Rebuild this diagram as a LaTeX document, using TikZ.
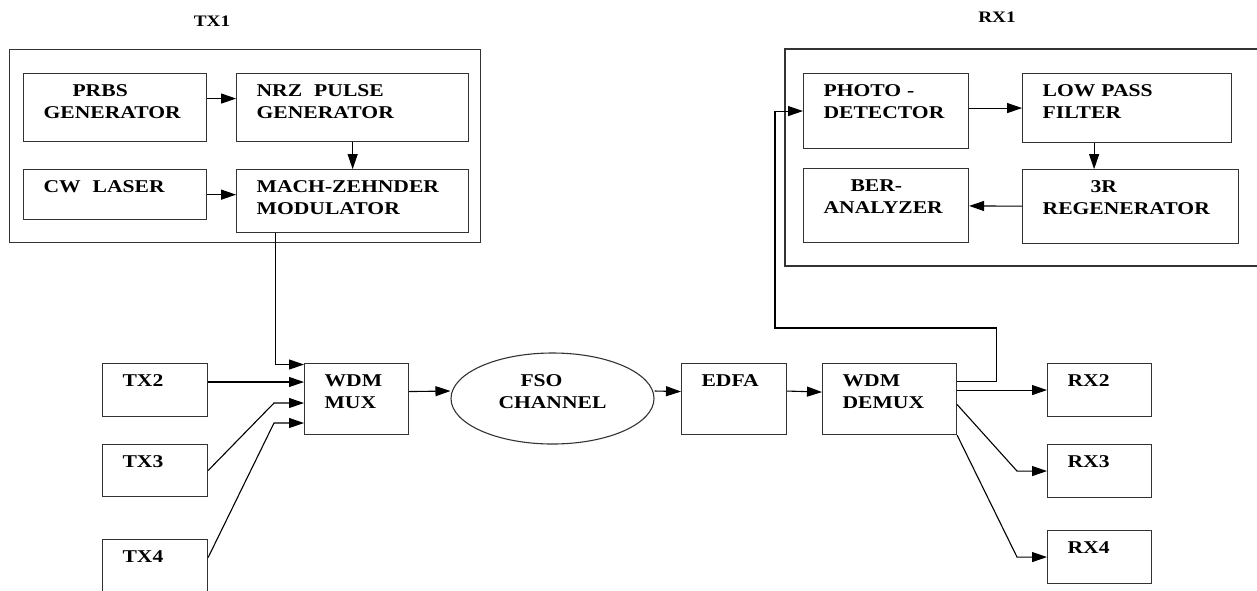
\documentclass[tikz,border=0pt]{standalone}
\usepackage{fontspec}
\setmainfont{Liberation Serif}[FakeStretch=1.2]
\usetikzlibrary{arrows.meta, positioning, calc, shapes.geometric}
\definecolor{boxgray}{HTML}{333333}
\newcommand{\blkfont}{\fontsize{18}{22}\selectfont\bfseries}
\newcommand{\ttlfont}{\fontsize{16}{19}\selectfont\bfseries}

\begin{document}
\begin{tikzpicture}[x=1pt, y=-1pt, line width=1.1pt,
    blk/.style 2 args={draw=boxgray, anchor=north west, align=left,
      inner xsep=20pt, inner ysep=0pt, text height=23pt,
      text width=#1pt-40pt, text depth=#2pt-23pt, font=\blkfont},
    frame/.style={draw=boxgray},
    ttl/.style={anchor=base, font=\ttlfont},
    chan/.style={draw=boxgray, ellipse, minimum width=203pt,
      minimum height=91pt, inner sep=0pt, align=center, text height=40pt,
      text depth=21pt, font=\blkfont},
    >={Triangle[length=15pt, width=10pt]}
  ]
  \useasboundingbox (0,0) rectangle (1257,590);

  % TX1
  \node[frame, anchor=north west, minimum width=471pt, minimum height=193pt,
    inner sep=0pt] (tx1box) at (9,49) {};
  \node[ttl] (tx1lbl) at (212,26) {TX1};
  \node[blk={183}{68}] (prbs) at (23,73) {\hspace*{29pt}PRBS\\GENERATOR};
  \node[blk={232}{68}, right=29pt of prbs.north east, anchor=north west]
    (nrz) {NRZ~~PULSE\\GENERATOR};
  \node[blk={183}{50}, below=27pt of prbs.south west, anchor=north west]
    (cw) {CW~~LASER};
  \node[blk={232}{63}, below=27pt of nrz.south west, anchor=north west]
    (mzm) {MACH-ZEHNDER\\MODULATOR};

  % RX1
  \draw[frame] (1257,49) -| (785,266) -- (1257,266);
  \node[ttl] (rx1lbl) at (997,22) {RX1};
  \node[blk={165}{75}] (pd) at (803,73) {PHOTO -\\DETECTOR};
  \node[blk={209}{69}, right=53pt of pd.north east, anchor=north west]
    (lpf) {LOW PASS\\FILTER};
  \node[blk={216}{74}, below=26pt of lpf.south west, anchor=north west]
    (r3) {\hspace*{48pt}3R\\REGENERATOR};
  \node[blk={165}{74}] (ber) at (803,168) {\hspace*{27pt}BER-\\ANALYZER};

  % link
  \node[blk={105}{53}] (tx2) at (102,363) {TX2};
  \node[blk={105}{52}] (tx3) at (102,444) {TX3};
  \node[blk={105}{53}] (tx4) at (102,539) {TX4};
  \node[blk={104}{71}] (mux) at (304,363) {WDM\\MUX};
  \node[chan] (fso) at (552.5,398.5) {FSO\hspace*{22pt}\\CHANNEL};
  \node[blk={105}{71}] (edfa) at (681,363) {EDFA};
  \node[blk={134}{71}] (demux) at (822,363) {WDM\\DEMUX};
  \node[blk={104}{53}] (rx2) at (1047,363) {RX2};
  \node[blk={104}{53}] (rx3) at (1047,444) {RX3};
  \node[blk={104}{53}] (rx4) at (1047,530) {RX4};

  \coordinate (muxin1) at ($(mux.north west)+(0,1.5)$);
  \coordinate (muxin2) at ($(mux.north west)+(0,19)$);
  \coordinate (muxin3) at ($(mux.north west)+(0,40)$);
  \coordinate (muxin4) at ($(mux.north west)+(0,60)$);

  \draw[->] ([yshift=9pt]prbs.east) -- ([yshift=9pt]nrz.west);
  \draw[->] (nrz) -- (mzm);
  \draw[->] (cw.east) -- (cw.east -| mzm.west);
  \draw[->] ([xshift=39pt]mzm.south west) |- (muxin1);
  \draw[->] (tx2.east |- muxin2) -- (muxin2);
  \draw[->] (tx3.east) -- ([xshift=-30pt]muxin3) -- (muxin3);
  \draw[->] ([yshift=8.5pt]tx4.east) -- ([xshift=-30pt]muxin4) -- (muxin4);
  \draw[->] ([yshift=7.5pt]mux.east) -- ([yshift=7.5pt]fso.west);
  \draw[->] ([yshift=7.5pt]fso.east) -- ([yshift=7.5pt]edfa.west);
  \draw[->] ([yshift=8pt]edfa.east) -- ([yshift=7pt]demux.west);
  \draw[->] (rx2.west -| demux.east) -- (rx2.west);
  \draw[->] ([yshift=-5.5pt]demux.east) -- ([xshift=-30pt]rx3.west) -- (rx3.west);
  \draw[->] (demux.south east) -- ([xshift=-30pt]rx4.west) -- (rx4.west);
  \draw[->] ([yshift=17.5pt]demux.east) -| ([xshift=39pt,yshift=35pt]demux.north east)
    -| ([xshift=-28pt]pd.west) -- (pd.west);
  \draw[->] (lpf.west -| pd.east) -- (lpf.west);
  \draw[->] ([xshift=72pt]lpf.south west) -- ([xshift=72pt]r3.north west);
  \draw[->] (r3) -- (ber);
\end{tikzpicture}
\end{document}
